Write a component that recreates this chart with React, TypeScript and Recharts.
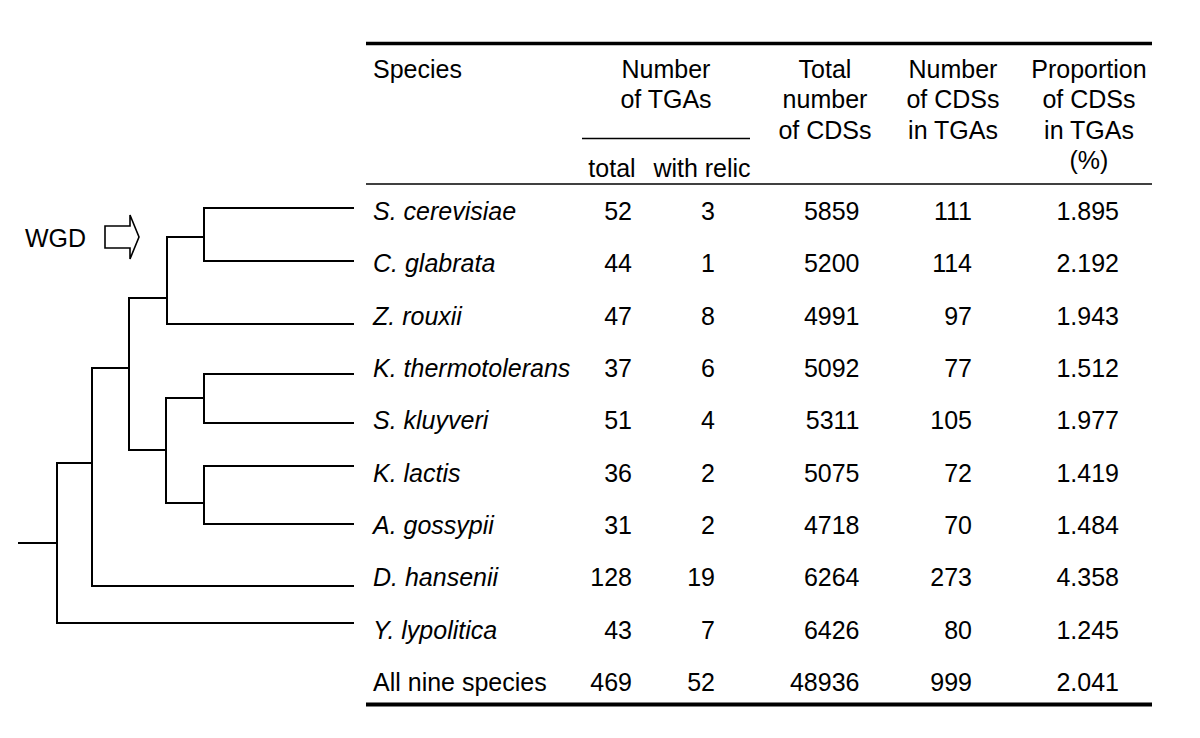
import { ScatterChart, Scatter, XAxis, YAxis, ReferenceLine } from 'recharts';

// table values, one row per species (last row is the total)
const species = [
  'S. cerevisiae', 'C. glabrata', 'Z. rouxii', 'K. thermotolerans', 'S. kluyveri',
  'K. lactis', 'A. gossypii', 'D. hansenii', 'Y. lypolitica', 'All nine species',
];
const tgaTotal = [52, 44, 47, 37, 51, 36, 31, 128, 43, 469];
const tgaRelic = [3, 1, 8, 6, 4, 2, 2, 19, 7, 52];
const cdsTotal = [5859, 5200, 4991, 5092, 5311, 5075, 4718, 6264, 6426, 48936];
const cdsInTga = [111, 114, 97, 77, 105, 72, 70, 273, 80, 999];
const cdsShare = ['1.895', '2.192', '1.943', '1.512', '1.977', '1.419', '1.484', '4.358', '1.245', '2.041'];

// header text, one entry per column (lines top to bottom)
const headSpecies = ['Species'];
const headTga = ['Number', 'of TGAs'];
const headTgaSub = ['total', 'with relic'];
const headCds = ['Total', 'number', 'of CDSs'];
const headCdsIn = ['Number', 'of CDSs', 'in TGAs'];
const headShare = ['Proportion', 'of CDSs', 'in TGAs', '(%)'];

// phylogeny: depth = x of node, pos = y of its stem
const tree = [
  { id: 'root', parent: null, depth: 57, pos: 543 },
  { id: 'G', parent: 'root', depth: 92, pos: 463 },
  { id: 'Y. lypolitica', parent: 'root', depth: 353, pos: 623 },
  { id: 'F', parent: 'G', depth: 129, pos: 368 },
  { id: 'D. hansenii', parent: 'G', depth: 353, pos: 586 },
  { id: 'B', parent: 'F', depth: 167, pos: 298 },
  { id: 'E', parent: 'F', depth: 166, pos: 450 },
  { id: 'A', parent: 'B', depth: 204, pos: 237 },
  { id: 'Z. rouxii', parent: 'B', depth: 353, pos: 324 },
  { id: 'S. cerevisiae', parent: 'A', depth: 353, pos: 208 },
  { id: 'C. glabrata', parent: 'A', depth: 353, pos: 261 },
  { id: 'C', parent: 'E', depth: 204, pos: 398 },
  { id: 'D', parent: 'E', depth: 204, pos: 503 },
  { id: 'K. thermotolerans', parent: 'C', depth: 353, pos: 374 },
  { id: 'S. kluyveri', parent: 'C', depth: 353, pos: 423 },
  { id: 'K. lactis', parent: 'D', depth: 353, pos: 466 },
  { id: 'A. gossypii', parent: 'D', depth: 353, pos: 524 },
];
const wgdLabel = 'WGD';

const W = 1200;
const H = 738;
const FONT = '"Liberation Sans", Arial, Helvetica, sans-serif';
const FS = 25;
const ROOT_START = 19;
const ROW_Y0 = 220;
const ROW_STEP = 52.35;
const HEAD_Y0 = 78;
const HEAD_STEP = 30.3;
const TABLE_L = 366;
const TABLE_R = 1152;

type Pt = { x: number; y: number; label: string | number };

const rowsAt = (xPos: number, values: (string | number)[]): Pt[] =>
  values.map((v, i) => ({ x: xPos, y: ROW_Y0 + i * ROW_STEP, label: v }));

const textShape = (anchor: 'start' | 'middle' | 'end', italicRows = 0) => (props: any) => {
  const { cx, cy, payload, index } = props;
  const italic = index < italicRows;
  return (
    <text x={cx} y={cy} textAnchor={anchor} fontFamily={FONT} fontSize={FS}
      fontStyle={italic ? 'italic' : 'normal'} fill="#000">
      {payload.label}
    </text>
  );
};

const headShape = (anchor: 'start' | 'middle') => (props: any) => {
  const { cx, cy, payload } = props;
  return (
    <text x={cx} y={cy} textAnchor={anchor} fontFamily={FONT} fontSize={FS} fill="#000">
      {payload.lines.map((l: string, i: number) => (
        <tspan key={i} x={cx} y={cy + i * HEAD_STEP}>{l}</tspan>
      ))}
    </text>
  );
};

const wgdShape = (props: any) => {
  const { cx, cy, payload } = props;
  const arrow = [[80, -21], [105, -21], [105, -32], [114, -10], [105, 12], [105, 1], [80, 1]]
    .map(([dx, dy]) => `${cx + dx},${cy + dy}`).join(' ');
  return (
    <g>
      <text x={cx} y={cy} fontFamily={FONT} fontSize={FS} fill="#000">{payload.label}</text>
      <polygon points={arrow} fill="#fff" stroke="#000" strokeWidth={1.6} strokeLinejoin="miter" />
    </g>
  );
};

function treeSegments() {
  const byId: Record<string, any> = {};
  tree.forEach((n) => { byId[n.id] = n; });
  const segs: { x1: number; y1: number; x2: number; y2: number }[] = [];
  tree.forEach((n) => {
    const px = n.parent ? byId[n.parent].depth : ROOT_START;
    segs.push({ x1: px, y1: n.pos, x2: n.depth, y2: n.pos });
    const kids = tree.filter((k) => k.parent === n.id);
    if (kids.length) {
      const ys = kids.map((k) => k.pos);
      segs.push({ x1: n.depth, y1: Math.min(...ys), x2: n.depth, y2: Math.max(...ys) });
    }
  });
  return segs;
}

export default function App() {
  const segs = treeSegments();
  const rules = [
    { y: 43.5, x1: TABLE_L, x2: TABLE_R, w: 3.5 },
    { y: 138.5, x1: 582, x2: 750, w: 1.5 },
    { y: 184, x1: TABLE_L, x2: TABLE_R, w: 1.6 },
    { y: 704.5, x1: TABLE_L, x2: TABLE_R, w: 3.8 },
  ];
  return (
    <div style={{ position: 'absolute', left: 0, top: 0, width: W, height: H, background: '#fff' }}>
      <ScatterChart width={W} height={H} margin={{ top: 0, right: 0, bottom: 0, left: 0 }}>
        <XAxis type="number" dataKey="x" domain={[0, W]} allowDataOverflow hide />
        <YAxis type="number" dataKey="y" domain={[0, H]} allowDataOverflow reversed hide />

        {segs.map((s, i) => (
          <ReferenceLine key={'t' + i} segment={[{ x: s.x1, y: s.y1 }, { x: s.x2, y: s.y2 }]}
            stroke="#000" strokeWidth={2} strokeLinecap="square" ifOverflow="visible" />
        ))}
        {rules.map((r, i) => (
          <ReferenceLine key={'r' + i} segment={[{ x: r.x1, y: r.y }, { x: r.x2, y: r.y }]}
            stroke="#000" strokeWidth={r.w} ifOverflow="visible" />
        ))}

        <Scatter data={[{ x: 25, y: 247, label: wgdLabel }]} shape={wgdShape} isAnimationActive={false} />

        <Scatter data={[{ x: 373, y: HEAD_Y0, lines: headSpecies }]} shape={headShape('start')} isAnimationActive={false} />
        <Scatter data={[
          { x: 666, y: HEAD_Y0, lines: headTga },
          { x: 825, y: HEAD_Y0, lines: headCds },
          { x: 953, y: HEAD_Y0, lines: headCdsIn },
          { x: 1089, y: HEAD_Y0, lines: headShare },
          { x: 612, y: 176.5, lines: [headTgaSub[0]] },
          { x: 702, y: 176.5, lines: [headTgaSub[1]] },
        ]} shape={headShape('middle')} isAnimationActive={false} />

        <Scatter data={rowsAt(373, species)} shape={textShape('start', 9)} isAnimationActive={false} />
        <Scatter data={rowsAt(632, tgaTotal)} shape={textShape('end')} isAnimationActive={false} />
        <Scatter data={rowsAt(715, tgaRelic)} shape={textShape('end')} isAnimationActive={false} />
        <Scatter data={rowsAt(859.5, cdsTotal)} shape={textShape('end')} isAnimationActive={false} />
        <Scatter data={rowsAt(972, cdsInTga)} shape={textShape('end')} isAnimationActive={false} />
        <Scatter data={rowsAt(1119, cdsShare)} shape={textShape('end')} isAnimationActive={false} />
      </ScatterChart>
    </div>
  );
}
